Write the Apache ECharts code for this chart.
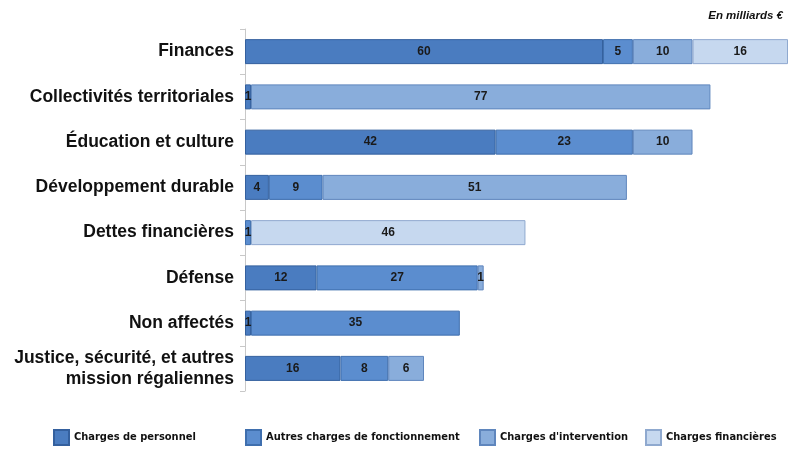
<!DOCTYPE html>
<html>
<head>
<meta charset="utf-8">
<script src="https://cdn.jsdelivr.net/npm/echarts@6/dist/echarts.min.js"></script>
<style>
  html, body { margin: 0; padding: 0; background: #fff; }
  #chart { width: 796px; height: 461px; }
</style>
</head>
<body>
<div id="chart"></div>
<script>
// Missions budgétaires (en milliards d'euros)
const categories = [
  'Finances',
  'Collectivités territoriales',
  'Éducation et culture',
  'Développement durable',
  'Dettes financières',
  'Défense',
  'Non affectés',
  'Justice, sécurité, et autres\nmission régaliennes'
];
const seriesNames = [
  'Charges de personnel',
  'Autres charges de fonctionnement',
  "Charges d'intervention",
  'Charges financières'
];
const chargesPersonnel      = [60, 1, 42, 4, null, 12, 1, 16];
const autresFonctionnement  = [5, null, 23, 9, 1, 27, 35, 8];
const chargesIntervention   = [10, 77, 10, 51, null, 1, null, 6];
const chargesFinancieres    = [16, null, null, null, 46, null, null, null];
const unitLabel = 'En milliards €';

const colors = ['#4a7cc0', '#5b8dcf', '#89addb', '#c6d8ef'];
const borders = ['#34609e', '#3f6fae', '#5f86bd', '#8fa9cf'];
const values = [chargesPersonnel, autresFonctionnement, chargesIntervention, chargesFinancieres];

const chart = echarts.init(document.getElementById('chart'), null, { renderer: 'canvas' });

// one legend block per series so each entry sits at its own position
const legendLefts = [48, 240, 474, 640];
const legends = seriesNames.map((n, i) => ({
  data: [n],
  left: legendLefts[i],
  top: 424,
  itemWidth: 15,
  itemHeight: 15,
  itemGap: 0,
  icon: 'rect',
  textStyle: {
    fontFamily: '"DejaVu Sans Condensed", "Liberation Sans Narrow", sans-serif',
    fontWeight: 'bold',
    fontSize: 11,
    color: '#111'
  },
  selectedMode: false
}));

chart.setOption({
  animation: false,
  color: colors,
  title: {
    text: unitLabel,
    right: 8,
    top: 5,
    textStyle: {
      fontFamily: '"Liberation Sans", Arial, sans-serif',
      fontStyle: 'italic',
      fontWeight: 'bold',
      fontSize: 11.5,
      color: '#111'
    }
  },
  legend: legends,
  grid: { left: 245, right: 8, top: 29, bottom: 70, containLabel: false },
  xAxis: {
    type: 'value',
    min: 0,
    max: 91,
    show: false
  },
  yAxis: {
    type: 'category',
    inverse: true,
    data: categories,
    axisLine: { show: true, lineStyle: { color: '#c8c8c8', width: 1 } },
    axisTick: { show: true, length: 5, lineStyle: { color: '#c8c8c8' } },
    axisLabel: {
      margin: 11,
      fontFamily: '"Liberation Sans", Arial, sans-serif',
      fontWeight: 'bold',
      fontSize: 17.5,
      color: '#111',
      lineHeight: 21,
      align: 'right'
    }
  },
  series: seriesNames.map((n, i) => ({
    name: n,
    type: 'bar',
    stack: 'total',
    barWidth: 25,
    data: values[i],
    itemStyle: { color: colors[i], borderColor: borders[i], borderWidth: 1 },
    label: {
      show: true,
      position: 'inside',
      fontFamily: '"Liberation Sans", Arial, sans-serif',
      fontWeight: 'bold',
      fontSize: 12,
      color: '#1a1a1a'
    }
  }))
});
</script>
</body>
</html>
